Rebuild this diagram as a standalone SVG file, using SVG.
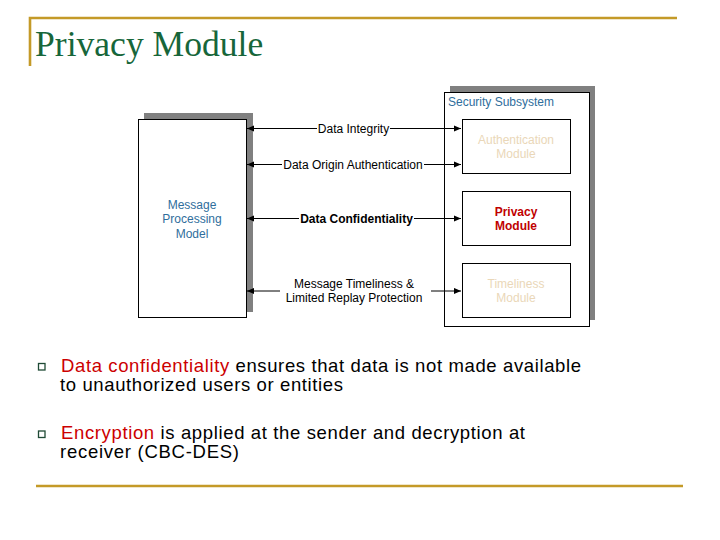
<svg xmlns="http://www.w3.org/2000/svg" width="720" height="540" viewBox="0 0 720 540">
<style>
.rule{stroke:#c49a28;stroke-width:2.6;fill:none}
.box{fill:#fff;stroke:#000;stroke-width:1}
.shadow{fill:#808080}
.lbl{font-family:"Liberation Sans",Arial,sans-serif;font-size:12px;fill:#000}
.blue{font-family:"Liberation Sans",Arial,sans-serif;font-size:12px;fill:#2f6e9c}
.tan{font-family:"Liberation Sans",Arial,sans-serif;font-size:12px;fill:#ead7b8}
.red{font-family:"Liberation Sans",Arial,sans-serif;font-size:12px;font-weight:bold;fill:#c00000}
.conn{stroke:#000;stroke-width:1;fill:none}
.body{font-family:"Liberation Sans",Arial,sans-serif;font-size:18.5px;fill:#000}
.hl{fill:#cc0000}
.bullet{fill:none;stroke:#1f4a35;stroke-width:1.3}
</style>
<defs>
<marker id="ah" viewBox="0 0 8 8" refX="8" refY="4" markerWidth="7" markerHeight="7" markerUnits="userSpaceOnUse" orient="auto">
<path d="M0,0.5 L8,4 L0,7.5 Z" fill="#000"/>
</marker>
</defs>
<rect width="720" height="540" fill="#fff"/>
<g id="title">
<path class="rule" d="M30,66 V18 H677"/>
<text x="35" y="56" font-family="'Liberation Serif','Times New Roman',serif" font-size="35.6" fill="#17663a">Privacy Module</text>
</g>
<g id="message-processing-model">
<rect class="shadow" x="144" y="113" width="109" height="199"/>
<rect class="box" x="138.5" y="119.5" width="108" height="198"/>
<text class="blue" text-anchor="middle"><tspan x="192" y="208.5">Message</tspan><tspan x="192" y="223">Processing</tspan><tspan x="192" y="237.5">Model</tspan></text>
</g>
<g id="security-subsystem">
<rect class="shadow" x="450" y="86" width="145" height="234"/>
<rect class="box" x="444.5" y="92.5" width="145" height="234"/>
<text class="blue" x="448" y="105.5">Security Subsystem</text>
</g>
<g id="authentication-module">
<rect class="box" x="462.5" y="119.5" width="108" height="54"/>
<text class="tan" text-anchor="middle"><tspan x="516" y="144">Authentication</tspan><tspan x="516" y="158">Module</tspan></text>
</g>
<g id="privacy-module">
<rect class="box" x="462.5" y="191.5" width="108" height="54"/>
<text class="red" text-anchor="middle"><tspan x="516" y="216">Privacy</tspan><tspan x="516" y="230">Module</tspan></text>
</g>
<g id="timeliness-module">
<rect class="box" x="462.5" y="263.5" width="108" height="54"/>
<text class="tan" text-anchor="middle"><tspan x="516" y="288">Timeliness</tspan><tspan x="516" y="302">Module</tspan></text>
</g>
<g id="connectors">
<path class="conn" d="M317,128.5 H247" marker-end="url(#ah)"/>
<path class="conn" d="M390,128.5 H461" marker-end="url(#ah)"/>
<path class="conn" d="M282,164.5 H247" marker-end="url(#ah)"/>
<path class="conn" d="M424,164.5 H461" marker-end="url(#ah)"/>
<path class="conn" d="M299,218.5 H247" marker-end="url(#ah)"/>
<path class="conn" d="M414,218.5 H461" marker-end="url(#ah)"/>
<path class="conn" d="M280,291 H247" marker-end="url(#ah)"/>
<path class="conn" d="M431,291 H461" marker-end="url(#ah)"/>
<text class="lbl" x="353.5" y="132.5" text-anchor="middle">Data Integrity</text>
<text class="lbl" x="353" y="168.5" text-anchor="middle">Data Origin Authentication</text>
<text class="lbl" x="356.5" y="222.5" text-anchor="middle" font-weight="bold">Data Confidentiality</text>
<text class="lbl" text-anchor="middle"><tspan x="354" y="287.5">Message Timeliness &amp;</tspan><tspan x="354" y="301.5">Limited Replay Protection</tspan></text>
</g>
<g id="bullets">
<rect class="bullet" x="38.5" y="363.5" width="6.5" height="6.5"/>
<text class="body" x="61" y="372" textLength="520" lengthAdjust="spacing"><tspan class="hl">Data confidentiality</tspan> ensures that data is not made available</text>
<text class="body" x="60" y="391" textLength="283" lengthAdjust="spacing">to unauthorized users or entities</text>
<rect class="bullet" x="38.5" y="431" width="6.5" height="6.5"/>
<text class="body" x="61" y="439" textLength="464" lengthAdjust="spacing"><tspan class="hl">Encryption</tspan> is applied at the sender and decryption at</text>
<text class="body" x="60" y="458" textLength="179" lengthAdjust="spacing">receiver (CBC-DES)</text>
</g>
<path class="rule" d="M36,486 H683"/>
</svg>
